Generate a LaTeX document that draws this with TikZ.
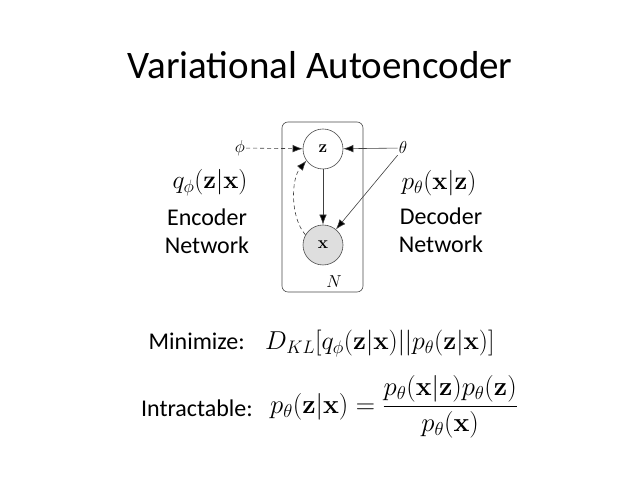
\documentclass[tikz,border=0pt]{standalone}
\usepackage{fix-cm}
\usepackage{amsmath}
\usepackage[no-math]{fontspec}
\setmainfont{Carlito}
\usetikzlibrary{arrows.meta}
\begin{document}
\begin{tikzpicture}[x=1pt,y=1pt,
  txt/.style={inner sep=0pt,font=\fontsize{24}{28}\selectfont},
  mth/.style={inner sep=0pt,font=\fontsize{25.5}{30}\selectfont},
  bigmth/.style={inner sep=0pt,font=\fontsize{25.9}{31}\selectfont},
  var/.style={circle,draw=black!70,line width=0.6pt,minimum size=40pt,inner sep=0pt,font=\fontsize{17.28}{19}\selectfont},
  arr/.style={-{Latex[length=10pt,width=7.5pt,fill=black]},line width=0.6pt,draw=black!75},
  darr/.style={arr,dashed,dash pattern=on 4pt off 3pt}]
\fill[white] (0,0) rectangle (638,479);
\useasboundingbox (0,0) rectangle (638,479);
\node[inner sep=0pt,font=\fontsize{39}{44}\selectfont] (title) at (320,414) {Variational Autoencoder};
\node[draw=black!70,line width=0.6pt,rounded corners=6pt,minimum width=81pt,minimum height=170pt,inner sep=0pt] (plate) at (322.5,272) {};
\node[var] (z) at (323,330) {$\mathbf{z}$};
\node[var,fill=black!13] (x) at (323,234) {$\mathbf{x}$};
\node[inner sep=0pt,font=\fontsize{17.28}{19}\selectfont] (N) at (334,197) {$N$};
\node[inner sep=1pt,font=\fontsize{17.28}{19}\selectfont] (phi) at (240,331) {$\phi$};
\node[inner sep=1pt,font=\fontsize{17.28}{19}\selectfont] (theta) at (403,331) {$\theta$};
\draw[darr] (phi) -- (z);
\draw[arr] (theta) -- (z);
\draw[arr] (theta.south west) -- (x);
\draw[arr] (z) -- (x);
\draw[darr] (x.150) .. controls (290,262) and (291,300) .. (z.215);
\node[mth] (q) at (210,296) {$q_\phi(\mathbf{z}|\mathbf{x})$};
\node[txt] (enc1) at (207,262) {Encoder};
\node[txt] (enc2) at (207,234) {Network};
\node[mth] (p) at (439,296) {$p_\theta(\mathbf{x}|\mathbf{z})$};
\node[txt] (dec1) at (441,263) {Decoder};
\node[txt] (dec2) at (441,235) {Network};
\node[txt,anchor=base east] (mini) at (245,129) {Minimize:};
\node[bigmth,anchor=base west] (kl) at (265,129) {$D_{KL}[q_\phi(\mathbf{z}|\mathbf{x})||p_\theta(\mathbf{z}|\mathbf{x})]$};
\node[txt,anchor=base east] (intr) at (253,62) {Intractable:};
\node[inner sep=0pt,font=\fontsize{26.7}{31}\selectfont,anchor=west] (bayes) at (270,72) {$p_\theta(\mathbf{z}|\mathbf{x})=\dfrac{p_\theta(\mathbf{x}|\mathbf{z})p_\theta(\mathbf{z})}{p_\theta(\mathbf{x})}$};
\end{tikzpicture}
\end{document}
